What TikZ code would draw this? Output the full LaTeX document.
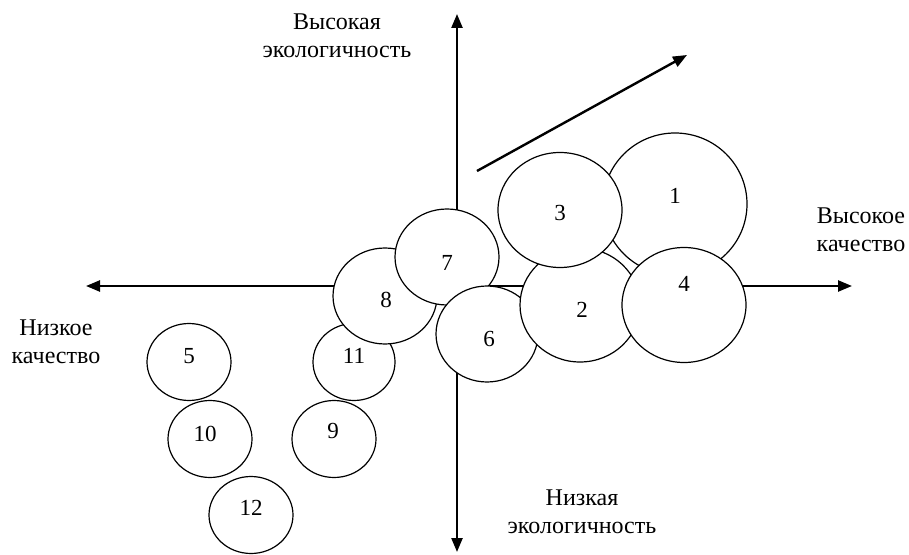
\documentclass[tikz,border=0pt]{standalone}
\usepackage{fontspec}
\setmainfont{Liberation Serif}
\usetikzlibrary{arrows.meta, positioning, shapes.geometric, calc}

\begin{document}
\begin{tikzpicture}[x=0.5pt, y=-0.5pt,
          blob/.style={ellipse, draw=black, fill=white, line width=0.6pt, inner sep=0pt},
          num/.style={inner sep=0pt, font=\fontsize{11.5}{13}\selectfont},
          lbl/.style={align=center, inner sep=0pt, font=\fontsize{12}{14}\selectfont},
          axis/.style={-{Triangle[length=7pt, width=5.5pt]}, line width=1.2pt}
        ]
          \useasboundingbox (0,0) rectangle (909,555);
          % axes
          \coordinate (top) at (457,14);
          \coordinate (bot) at (457,552);
          \coordinate (lft) at (86,286);
          \coordinate (rgt) at (852,286);
          \coordinate (mid) at (457,286);
          \draw[axis] (mid)--(top);
          \draw[axis] (mid)--(bot);
          \draw[axis] (mid)--(lft);
          \draw[axis] (mid)--(rgt);
          \coordinate (trs) at (477,171);
          \coordinate (tre) at (687,55);
          \draw[axis] (trs)--(tre);
          % axis labels
          \node[lbl] (hieco) at (337,36) {Высокая\\экологичность};
          \node[lbl] (hiq) at (861,230) {Высокое\\качество};
          \node[lbl] (loq) at (56,342) {Низкое\\качество};
          \node[lbl] (loeco) at (582,512) {Низкая\\экологичность};
          % groups
          \node[blob, minimum width=41pt, minimum height=38.5pt] (c11) at (354,362) {};
          \node[blob, minimum width=52pt, minimum height=48pt] (c8) at (385,296) {};
          \node[blob, minimum width=52pt, minimum height=48pt] (c7) at (447,257) {};
          \node[blob, minimum width=51pt, minimum height=48pt] (c6) at (487,334) {};
          \node[blob, minimum width=60pt, minimum height=57pt] (c2) at (580,305) {};
          \node[blob, minimum width=72pt, minimum height=71pt] (c1) at (675,204) {};
          \node[blob, minimum width=62pt, minimum height=57.5pt] (c3) at (560,210) {};
          \node[blob, minimum width=62pt, minimum height=57.5pt] (c4) at (684,305) {};
          \node[blob, minimum width=42pt, minimum height=38.5pt] (c5) at (189,362) {};
          \node[blob, minimum width=42pt, minimum height=38.5pt] (c10) at (210,439) {};
          \node[blob, minimum width=42pt, minimum height=38.5pt] (c9) at (334,439) {};
          \node[blob, minimum width=42pt, minimum height=38.5pt] (c12) at (251,515) {};
          % numbers
          \node[num] (n1) at ($(c1)+(0,-8)$) {1};
          \node[num] (n2) at ($(c2)+(2,5)$) {2};
          \node[num] (n3) at ($(c3)+(0,3)$) {3};
          \node[num] (n4) at ($(c4)+(0,-21)$) {4};
          \node[num] (n5) at ($(c5)+(0,-6)$) {5};
          \node[num] (n6) at ($(c6)+(2,5)$) {6};
          \node[num] (n7) at ($(c7)+(0,6)$) {7};
          \node[num] (n8) at ($(c8)+(1,4)$) {8};
          \node[num] (n9) at ($(c9)+(-1,-8)$) {9};
          \node[num] (n10) at ($(c10)+(-5,-5)$) {10};
          \node[num] (n11) at ($(c11)+(0,-6)$) {11};
          \node[num] (n12) at ($(c12)+(0,-7)$) {12};
        \end{tikzpicture}
\end{document}
